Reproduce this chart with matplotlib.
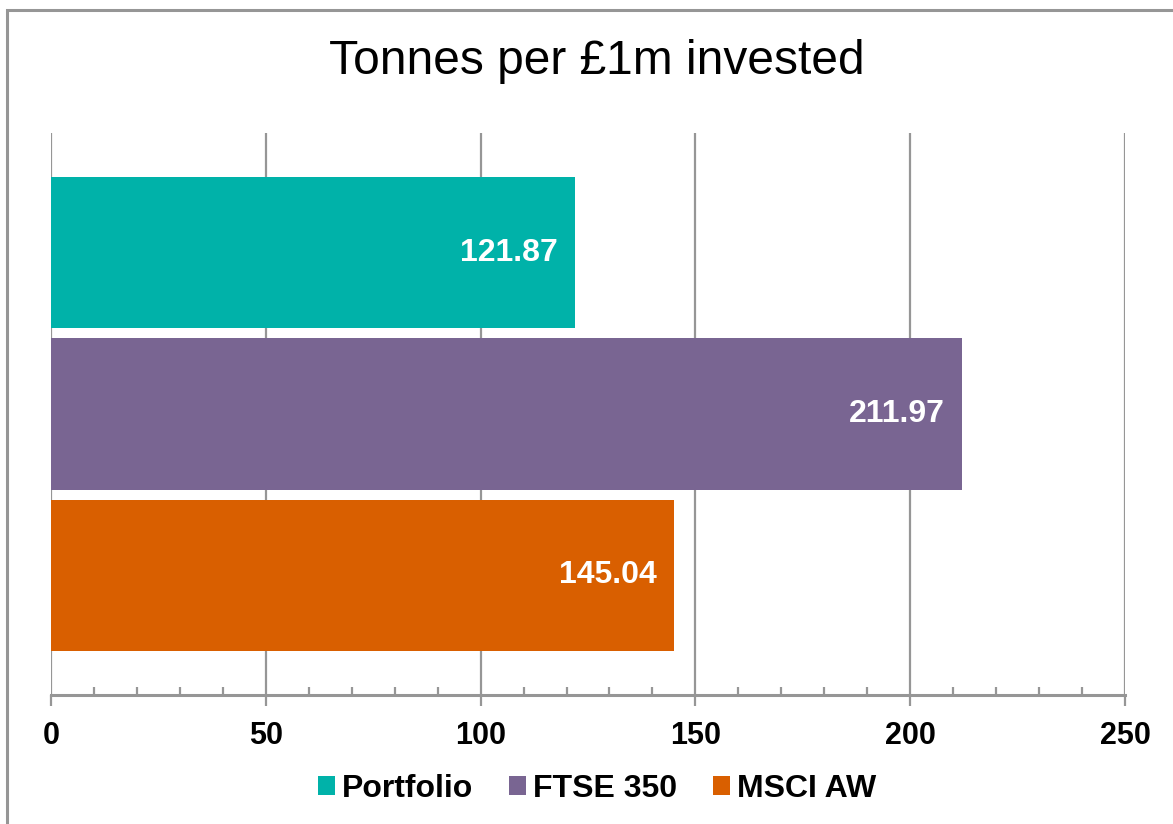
import matplotlib.pyplot as plt
from matplotlib.patches import Patch, Rectangle
from matplotlib.ticker import MultipleLocator

plt.rcParams['font.family'] = ['Liberation Sans', 'DejaVu Sans']

# data
series = ["Portfolio", "FTSE 350", "MSCI AW"]
values = [121.87, 211.97, 145.04]
colours = ["#00B2A9", "#796592", "#D95F00"]
x_ticks = [0, 50, 100, 150, 200, 250]

grey = "#969696"

fig = plt.figure(figsize=(11.73, 8.24), dpi=100)
# outer frame of the chart area (cut off on right/bottom like the original)
fig.patches.append(Rectangle((7/1173, -0.1), 1.2, (824-10)/824 + 0.1,
                             transform=fig.transFigure, fill=False,
                             edgecolor=grey, linewidth=2.2))

ax = fig.add_axes([51/1173, (824-695)/824, (1125-51)/1173, (695-133)/824])

pos = list(range(len(series)))
bars = ax.barh(pos, values, height=0.94, color=colours, zorder=3)
for b, v in zip(bars, values):
    ax.text(v - 4.0, b.get_y() + b.get_height()/2, f"{v:.2f}",
            ha="right", va="center", color="white", fontsize=23,
            fontweight="bold", zorder=4)

ax.set_xlim(0, 250)
ax.set_ylim(2.74, -0.74)
ax.set_xticks(x_ticks)
ax.xaxis.set_minor_locator(MultipleLocator(10))
ax.set_yticks([])
ax.grid(axis="x", which="major", color=grey, linewidth=1.6, zorder=0)

for s in ["top", "right", "left"]:
    ax.spines[s].set_visible(False)
ax.spines["bottom"].set_color(grey)
ax.spines["bottom"].set_linewidth(2.2)

ax.tick_params(axis="x", which="major", direction="out", length=8, width=1.6,
               color=grey, labelsize=22, pad=11)
ax.tick_params(axis="x", which="minor", direction="in", length=6, width=1.6,
               color=grey)
for lab in ax.get_xticklabels():
    lab.set_fontweight("bold")

fig.text(597/1173, 1 - 62/824, "Tonnes per £1m invested", ha="center", va="center",
         fontsize=34.5)

handles = [Patch(facecolor=c, edgecolor="none", label=s) for s, c in zip(series, colours)]
leg = fig.legend(handles=handles, loc="center", bbox_to_anchor=(597/1173, 1 - 789/824),
                 ncol=3, frameon=False, handlelength=0.53, handleheight=0.53,
                 handletextpad=0.22, columnspacing=1.13,
                 prop={"size": 23, "weight": "bold"})

fig.savefig("out.png", dpi=100)
